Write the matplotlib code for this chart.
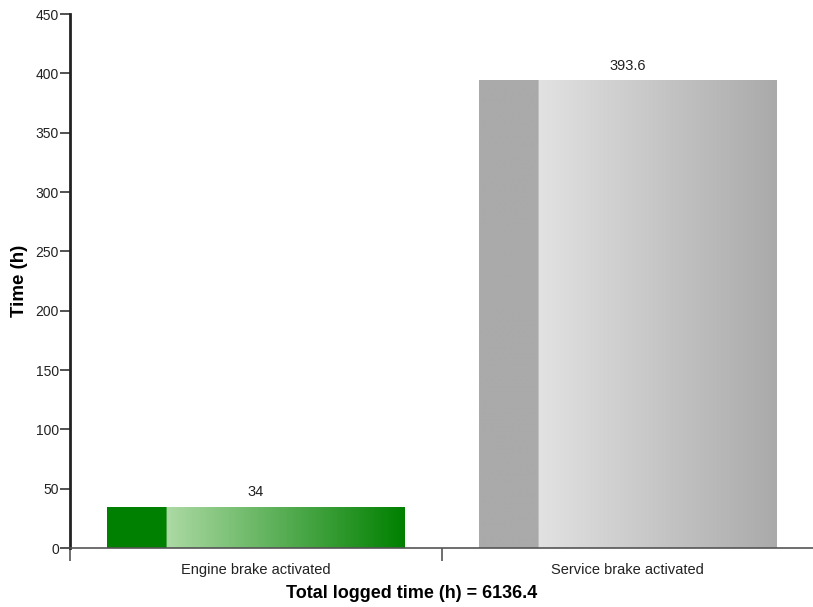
import numpy as np
import matplotlib.pyplot as plt
from matplotlib.colors import to_rgb

categories = ['Engine brake activated', 'Service brake activated']
values = [34, 393.6]
value_labels = ['34', '393.6']
dark_colors = ['#008000', '#aaaaaa']
light_colors = ['#acdaa4', '#e2e2e2']
total_time = 6136.4

plt.rcParams['font.family'] = ['Liberation Sans', 'DejaVu Sans']

fig = plt.figure(figsize=(8.13, 6.07), dpi=100)
ax = fig.add_axes([70 / 813, 1 - 548 / 607, 1 - 70 / 813, (548 - 14) / 607])

width = 0.8
x = np.arange(len(categories))
for xi, v, dc, lc, lab in zip(x, values, dark_colors, light_colors, value_labels):
    # horizontal gradient: solid dark for first 20%, then light -> dark
    t = np.linspace(0, 1, 300)
    d = np.array(to_rgb(dc))
    l = np.array(to_rgb(lc))
    f = np.clip((t - 0.2) / 0.8, 0, 1)[:, None]
    row = np.where((t < 0.2)[:, None], d, l + (d - l) * f)
    img = row[None, :, :]
    x0 = xi - width / 2
    ax.imshow(img, extent=[x0, x0 + width, 0, v], aspect='auto',
              interpolation='bilinear', zorder=2)
    ax.text(xi, v + 7, lab, ha='center', va='bottom', fontsize=10.5, color='#222222')

ax.set_xlim(-0.5, len(categories) - 0.5)
ax.set_ylim(0, 450)
ax.set_yticks(np.arange(0, 451, 50))
ax.set_xticks(x)
ax.set_xticklabels(categories, fontsize=10.5, color='#222222')
ax.set_xticks([-0.5, 0.5], minor=True)
ax.tick_params(axis='x', which='major', length=0, pad=11)
ax.tick_params(axis='x', which='minor', length=9, width=1.2, color='#555555')
ax.tick_params(axis='y', length=7, width=1.2, pad=1, labelsize=10,
               color='#333333', labelcolor='#222222')

for s in ['top', 'right']:
    ax.spines[s].set_visible(False)
ax.spines['left'].set_linewidth(2)
ax.spines['left'].set_color('#222222')
ax.spines['bottom'].set_linewidth(1.2)
ax.spines['bottom'].set_color('#555555')

ax.set_ylabel('Time (h)', fontsize=13.5, fontweight='bold')
ax.yaxis.set_label_coords(-42 / 743, (547 - 280) / 534)
fig.text(412 / 813, 1 - 593 / 607, f'Total logged time (h) = {total_time}',
         ha='center', va='center', fontsize=13, fontweight='bold')

fig.savefig('out.png', dpi=100)
